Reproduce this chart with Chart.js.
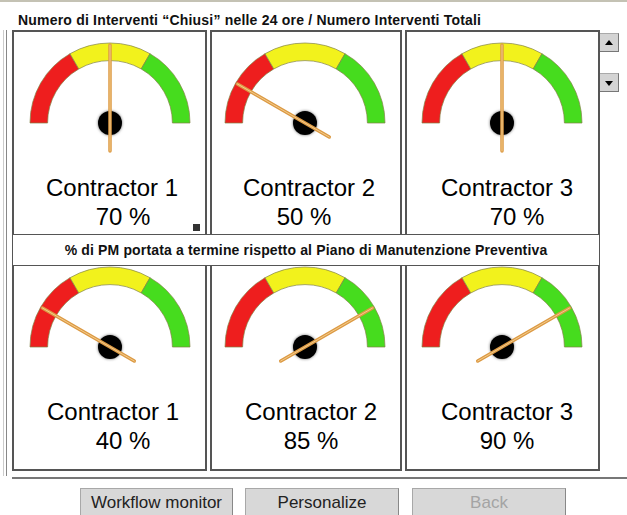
<!DOCTYPE html>
<html>
<head>
<meta charset="utf-8">
<script src="https://cdn.jsdelivr.net/npm/chart.js@4"></script>
<style>
  body { margin: 0; width: 627px; height: 515px; background: #fff; position: relative; overflow: hidden;
         font-family: "Liberation Sans", Arial, sans-serif; color: #000; }
  .abs { position: absolute; }
  #topline { left: 0; top: 0; width: 627px; height: 2px; background: #c4c2b4; }
  #title1 { left: 18px; top: 12px; font-size: 14px; font-weight: bold; letter-spacing: 0.2px; line-height: 16px; white-space: nowrap; color: #111; }
  .frame { width: 1px; background: #999; }
  .panel { box-sizing: border-box; border: 2px solid #555; background: #fff; }
  #midbox { left: 12px; top: 234px; width: 588px; height: 32px; box-sizing: border-box; border: 1px solid #555;
            background: #fff; font-weight: bold; font-size: 14px; letter-spacing: 0.15px; text-align: center;
            line-height: 30px; z-index: 5; color: #111; }
  .lbl { font-size: 24px; line-height: 24px; white-space: nowrap; transform: translateX(-50%); }
  .arrow { left: 599px; width: 20px; height: 19px; background: #d4d4d4; box-sizing: border-box;
           border: 1px solid #aaa; border-right-color: #777; border-bottom-color: #777; }
  .arrow::after { content: ""; position: absolute; left: 5px; border-left: 4px solid transparent; border-right: 4px solid transparent; }
  #up::after { top: 6px; border-bottom: 5px solid #000; }
  #down::after { top: 7px; border-top: 5px solid #000; }
  #sep { left: 12px; top: 477px; width: 615px; height: 2px; background: #777; }
  .btn { top: 488px; height: 30px; box-sizing: border-box; background: #d8d8d8; border: 1px solid #a8a8a8;
         border-right-color: #888; font-size: 17px; text-align: center; line-height: 28px; color: #222; }
  #resize { left: 193px; top: 224px; width: 7px; height: 7px; background: #333; z-index: 4; }
</style>
</head>
<body>
<div id="topline" class="abs"></div>
<div id="title1" class="abs">Numero di Interventi “Chiusi” nelle 24 ore / Numero Interventi Totali</div>
<div class="abs frame" style="left:3px;top:30px;height:446px;background:#ccc"></div>
<div class="abs frame" style="left:6px;top:30px;height:446px;background:#888"></div>
<div id="up" class="abs arrow" style="top:33px"></div>
<div id="down" class="abs arrow" style="top:73px"></div>
<div id="midbox" class="abs">% di PM portata a termine rispetto al Piano di Manutenzione Preventiva</div>
<div id="resize" class="abs"></div>
<div id="sep" class="abs"></div>
<div class="abs btn" style="left:80px;width:153px">Workflow monitor</div>
<div class="abs btn" style="left:245px;width:154px">Personalize</div>
<div class="abs btn" style="left:412px;width:154px;color:#a4a4a4">Back</div>

<script>
const contractors = ["Contractor 1", "Contractor 2", "Contractor 3"];
const chiusiValues = [70, 50, 70];   // interventi chiusi nelle 24 ore (%)
const pmValues = [40, 85, 90];       // PM a termine rispetto al piano (%)
const zoneLimits = [60, 80];         // rosso < 60, giallo 60-80, verde > 80
const zoneColors = ["#ee1e1e", "#f2f21c", "#46dc1e"];

// posizioni dei pannelli
const panelLeft = [12, 210, 405];
const panelWidth = [195, 192, 195];
const hubX = [110, 305, 502];
const rows = [
  { top: 30, values: chiusiValues, labelX: [112, 309, 507], pctX: [123, 304, 517] },
  { top: 254, values: pmValues, labelX: [113, 311, 507], pctX: [123, 311, 507] }
];

function zoneOf(v) {
  let z = 0;
  zoneLimits.forEach(l => { if (v > l) z++; });
  return z;
}

const needlePlugin = {
  id: "needle",
  afterDatasetsDraw(chart) {
    const meta = chart.getDatasetMeta(0);
    const arc = meta.data[zoneOf(chart.options.plugins.needle.value)];
    const a = (arc.startAngle + arc.endAngle) / 2;
    const ctx = chart.ctx;
    const cx = arc.x, cy = arc.y;
    const len = arc.outerRadius - 2, tail = 28;
    ctx.save();
    ctx.shadowColor = "rgba(0,0,0,0.6)";
    ctx.shadowBlur = 3;
    ctx.fillStyle = "#000";
    ctx.beginPath();
    ctx.arc(cx, cy, 12, 0, Math.PI * 2);
    ctx.fill();
    ctx.shadowBlur = 0;
    ctx.lineCap = "round";
    ctx.strokeStyle = "#dc9a44";
    ctx.lineWidth = 3.5;
    ctx.beginPath();
    ctx.moveTo(cx - Math.cos(a) * tail, cy - Math.sin(a) * tail);
    ctx.lineTo(cx + Math.cos(a) * len, cy + Math.sin(a) * len);
    ctx.stroke();
    ctx.strokeStyle = "#f4cc8c";
    ctx.lineWidth = 1;
    ctx.stroke();
    ctx.restore();
  }
};

rows.forEach(row => {
  contractors.forEach((name, i) => {
    const panel = document.createElement("div");
    panel.className = "abs panel";
    panel.style.left = panelLeft[i] + "px";
    panel.style.top = row.top + "px";
    panel.style.width = panelWidth[i] + "px";
    panel.style.height = "217px";
    document.body.appendChild(panel);

    const holder = document.createElement("div");
    holder.className = "abs";
    holder.style.left = (hubX[i] - 82) + "px";
    holder.style.top = (row.top + 93 - 82) + "px";
    holder.style.width = "164px";
    holder.style.height = "122px";
    holder.style.zIndex = 2;
    const canvas = document.createElement("canvas");
    holder.appendChild(canvas);
    document.body.appendChild(holder);

    new Chart(canvas, {
      type: "doughnut",
      data: {
        labels: ["rosso", "giallo", "verde"],
        datasets: [{
          data: [1, 1, 1],
          backgroundColor: zoneColors,
          borderColor: "rgba(130,130,70,0.7)",
          borderWidth: 1
        }]
      },
      options: {
        responsive: true,
        maintainAspectRatio: false,
        animation: false,
        rotation: -90,
        circumference: 180,
        radius: 80,
        cutout: "78%",
        layout: { padding: { left: 2, right: 2, top: 2, bottom: 40 } },
        plugins: {
          legend: { display: false },
          tooltip: { enabled: false },
          needle: { value: row.values[i] }
        }
      },
      plugins: [needlePlugin]
    });

    const lbl = document.createElement("div");
    lbl.className = "abs lbl";
    lbl.style.left = row.labelX[i] + "px";
    lbl.style.top = (row.top + 146) + "px";
    lbl.style.zIndex = 3;
    lbl.textContent = name;
    document.body.appendChild(lbl);

    const pct = document.createElement("div");
    pct.className = "abs lbl";
    pct.style.left = row.pctX[i] + "px";
    pct.style.top = (row.top + 175) + "px";
    pct.style.zIndex = 3;
    pct.textContent = row.values[i] + " %";
    document.body.appendChild(pct);
  });
});
</script>
</body>
</html>
